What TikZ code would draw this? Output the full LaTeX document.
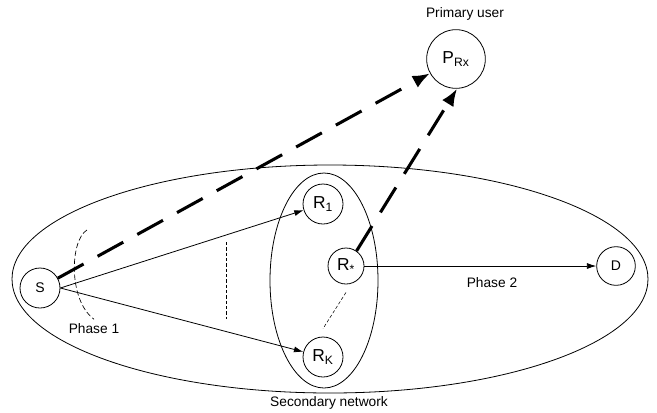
\documentclass[tikz,border=0pt]{standalone}
\usepackage{fontspec}
\setmainfont{Liberation Sans}
\usetikzlibrary{arrows,arrows.meta,shapes.geometric}
\begin{document}
\begin{tikzpicture}[x=0.75pt,y=-0.75pt,auto]
\tikzstyle{terminal} = [circle, draw, line width=0.6pt, inner sep=0pt,
minimum size=30pt, font=\fontsize{10.5}{12}\selectfont]
\tikzstyle{relay} = [terminal, font=\fontsize{13}{15}\selectfont]
\tikzstyle{txt} = [font=\fontsize{10.3}{12}\selectfont]
\tikzstyle{line} = [draw, line width=0.6pt, -{Latex[length=7pt,width=4.5pt]}]
\tikzstyle{interference} = [draw, line width=2.3pt,
dash pattern=on 22pt off 12pt, -{Latex[length=13pt,width=10pt]}]
\tikzstyle{hint} = [draw, line width=0.4pt, dash pattern=on 2.5pt off 1.5pt]
\useasboundingbox (0,0) rectangle (657,412);
% networks
\draw[line width=0.6pt] (330,279) ellipse [x radius=318, y radius=114];
\draw[line width=0.6pt] (324,280.5) ellipse [x radius=54, y radius=107.5];
\node[txt] (secondary) at (329,403) {Secondary network};
% nodes
\node [terminal] (src) at (40,288) {S};
\node [relay] (relay_1) at (323,204) {R\textsubscript{1}};
\node [relay, minimum size=27pt] (relay_sel) at (346,266) {R\textsubscript{*}};
\node [relay] (relay_k) at (323,357) {R\textsubscript{K}};
\node [terminal, minimum size=29pt] (dest) at (616,266) {D};
\node [relay, minimum size=44pt] (primary) at (456,59) {P\textsubscript{Rx}};
\node [txt] (primary_lbl) at (465,14) {Primary user};
% phases
\node [txt] (phase_1) at (94,329) {Phase 1};
\node [txt] (phase_2) at (492,283) {Phase 2};
\draw [line width=0.5pt, dash pattern=on 4pt off 2pt]
  (87,230) .. controls (70,240) and (68,300) .. (phase_1.north);
\coordinate (gap_top) at (226,242);
\coordinate (gap_bot) at (226,319);
\path [hint] (gap_top) -- (gap_bot);
\path [hint] ([shift={(0,8)}]relay_sel.south) -- ([shift={(0,-8)}]relay_k.north);
% links
\path [line] (src.east) -- (relay_1);
\path [line] (src.east) -- (relay_k);
\path [line] (relay_sel) -- (dest);
\path [interference] (src) -- (primary);
\path [interference] (relay_sel.55) -- (primary.-88);
\end{tikzpicture}
\end{document}
